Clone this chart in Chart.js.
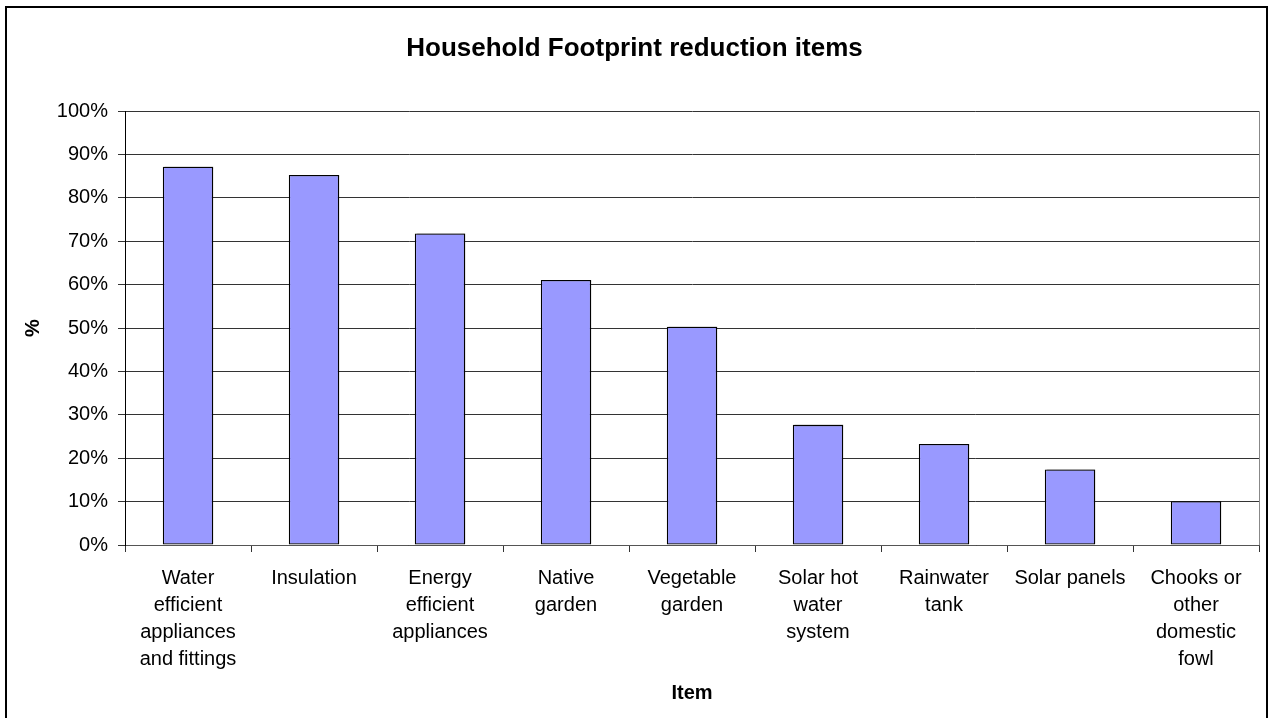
<!DOCTYPE html>
<html>
<head>
<meta charset="utf-8">
<title>Household Footprint reduction items</title>
<script src="https://cdn.jsdelivr.net/npm/chart.js@4/dist/chart.umd.min.js"></script>
<style>
    html, body { margin: 0; padding: 0; background: #ffffff; }
    #wrap { width: 1269px; height: 718px; }
</style>
</head>
<body>
<div id="wrap"><canvas id="wtkChart" width="1269" height="718"></canvas></div>
<script>
var itemLabels = [
    ['Water', 'efficient', 'appliances', 'and fittings'],
    ['Insulation'],
    ['Energy', 'efficient', 'appliances'],
    ['Native', 'garden'],
    ['Vegetable', 'garden'],
    ['Solar hot', 'water', 'system'],
    ['Rainwater', 'tank'],
    ['Solar panels'],
    ['Chooks or', 'other', 'domestic', 'fowl']
];
var itemPercent = [87.2, 85.3, 71.8, 61.1, 50.3, 27.7, 23.3, 17.4, 10.1];
var pctTicks = [0, 10, 20, 30, 40, 50, 60, 70, 80, 90, 100];

var fontFam = '"Liberation Sans", Arial, Helvetica, sans-serif';

// outer frame + right edge of the plot area
var framePlugin = {
    id: 'wtkFrame',
    beforeDraw: function (chart) {
        var ctx = chart.ctx;
        ctx.save();
        ctx.fillStyle = '#ffffff';
        ctx.fillRect(0, 0, chart.width, chart.height);
        ctx.restore();
    },
    afterDraw: function (chart) {
        var ctx = chart.ctx;
        var a = chart.chartArea;
        ctx.save();
        ctx.strokeStyle = '#888888';
        ctx.lineWidth = 1;
        ctx.beginPath();
        ctx.moveTo(Math.round(a.right) + 0.5, a.top);
        ctx.lineTo(Math.round(a.right) + 0.5, a.bottom);
        ctx.stroke();
        ctx.strokeStyle = '#000000';
        ctx.lineWidth = 2;
        ctx.strokeRect(6, 7, 1261, 720);
        ctx.restore();
    }
};

// small grey drop shadow behind the bars
var shadowPlugin = {
    id: 'wtkShadow',
    beforeDatasetDraw: function (chart) {
        var ctx = chart.ctx;
        ctx.save();
        ctx.shadowColor = 'rgba(0,0,0,0.35)';
        ctx.shadowOffsetX = 2;
        ctx.shadowOffsetY = -1;
        ctx.shadowBlur = 1;
    },
    afterDatasetDraw: function (chart) {
        chart.ctx.restore();
    }
};

var wtkBarConfig = {
    type: 'bar',
    data: {
        labels: itemLabels,
        datasets: [{
            label: '%',
            data: itemPercent,
            backgroundColor: '#9999ff',
            borderColor: '#000000',
            borderWidth: 1.3,
            borderSkipped: false,
            barPercentage: 0.4,
            categoryPercentage: 1.0
        }]
    },
    options: {
        responsive: false,
        animation: false,
        layout: { padding: { left: 10, right: 10, top: 0, bottom: 0 } },
        plugins: {
            legend: { display: false },
            tooltip: { enabled: false },
            title: {
                display: true,
                text: 'Household Footprint reduction items',
                color: '#000000',
                font: { family: fontFam, size: 26, weight: 'bold', lineHeight: 1.2 },
                padding: { top: 33, bottom: 47 }
            }
        },
        scales: {
            x: {
                afterFit: function (scale) { scale.height = 173; },
                grid: {
                    offset: true,
                    drawOnChartArea: false,
                    drawTicks: true,
                    tickLength: 7,
                    color: '#333333'
                },
                border: { display: true, color: '#555555', width: 1 },
                ticks: {
                    color: '#000000',
                    padding: 13,
                    maxRotation: 0,
                    autoSkip: false,
                    font: { family: fontFam, size: 20, lineHeight: 1.35 }
                },
                title: {
                    display: true,
                    text: 'Item',
                    color: '#000000',
                    font: { family: fontFam, size: 20, weight: 'bold', lineHeight: 1.2 },
                    padding: { top: 0, bottom: 13 }
                }
            },
            y: {
                min: 0,
                max: 100,
                afterFit: function (scale) { scale.width = 115; },
                afterBuildTicks: function (scale) {
                    scale.ticks = pctTicks.map(function (v) { return { value: v }; });
                },
                grid: {
                    color: '#333333',
                    lineWidth: 1,
                    drawTicks: true,
                    tickLength: 7
                },
                border: { display: true, color: '#000000', width: 1 },
                ticks: {
                    color: '#000000',
                    padding: 10,
                    font: { family: fontFam, size: 20 },
                    callback: function (v) { return v + '%'; }
                },
                title: {
                    display: true,
                    text: '%',
                    color: '#000000',
                    font: { family: fontFam, size: 20, weight: 'bold', lineHeight: 1.2 },
                    padding: { top: 11, bottom: 0 }
                }
            }
        }
    },
    plugins: [framePlugin, shadowPlugin]
};

var ctx = document.getElementById('wtkChart').getContext('2d');
var wtkChart = new Chart(ctx, wtkBarConfig);
</script>
</body>
</html>
